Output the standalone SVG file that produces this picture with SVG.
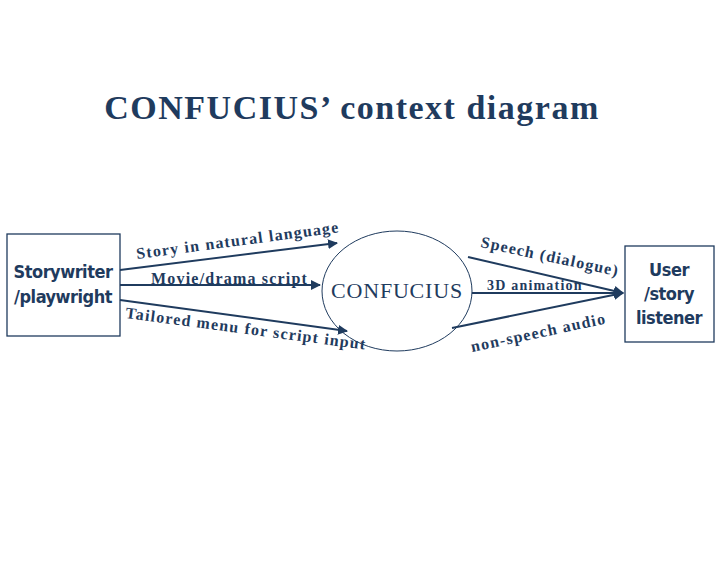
<svg xmlns="http://www.w3.org/2000/svg" width="720" height="576" viewBox="0 0 720 576">
<style>
.t{font-family:"Liberation Serif",serif;font-weight:bold;fill:#1f3b5e;letter-spacing:1.2px}
.n{font-family:"DejaVu Sans Condensed","DejaVu Sans",sans-serif;font-weight:bold;fill:#1f3b5e;font-size:18px;text-anchor:middle;letter-spacing:-0.5px}
.b{fill:#fff;stroke:#1f3b5e;stroke-width:1.3}
.l{stroke:#1f3b5e;stroke-width:2;fill:none;marker-end:url(#a)}
</style>
<defs><marker id="a" viewBox="0 0 10 10" refX="9" refY="5" markerWidth="5" markerHeight="5" orient="auto"><path d="M0,0L10,5L0,10z" fill="#1f3b5e"/></marker></defs>
<rect width="720" height="576" fill="#fff"/>
<text class="t" x="352" y="119" font-size="34" text-anchor="middle" style="letter-spacing:1.5px">CONFUCIUS’ context diagram</text>
<g id="writer"><rect class="b" x="7" y="234" width="113" height="102"/><text class="n" x="63" y="278">Storywriter</text><text class="n" x="63" y="303">/playwright</text></g>
<g id="confucius"><ellipse cx="397" cy="291" rx="75" ry="60" fill="#fff" stroke="#1f3b5e" stroke-width="1"/><text x="397" y="298" font-size="22" font-family="Liberation Serif,serif" fill="#1f3b5e" letter-spacing="0.8" text-anchor="middle">CONFUCIUS</text></g>
<g id="user"><rect class="b" x="625" y="246" width="89" height="96"/><text class="n" x="669" y="276">User</text><text class="n" x="669" y="300">/story</text><text class="n" x="669" y="324">listener</text></g>
<g id="connectors">
<path class="l" d="M120,270L337,243"/>
<path class="l" d="M120,285L320,285"/>
<path class="l" d="M120,300L347,331"/>
<path class="l" d="M468,257L623,293"/>
<path class="l" d="M472,293L623,293"/>
<path class="l" d="M452,328L623,293"/>
</g>
<text class="t" font-size="16" transform="translate(137,259) rotate(-7.5)">Story in natural language</text>
<text class="t" font-size="16" x="151" y="284">Movie/drama script</text>
<text class="t" font-size="16" transform="translate(125,318) rotate(7.5)">Tailored menu for script input</text>
<text class="t" font-size="16" transform="translate(480,247) rotate(12)">Speech (dialogue)</text>
<text class="t" font-size="14" x="487" y="290">3D animation</text>
<text class="t" font-size="16" transform="translate(472,352) rotate(-12)">non-speech audio</text>
</svg>
